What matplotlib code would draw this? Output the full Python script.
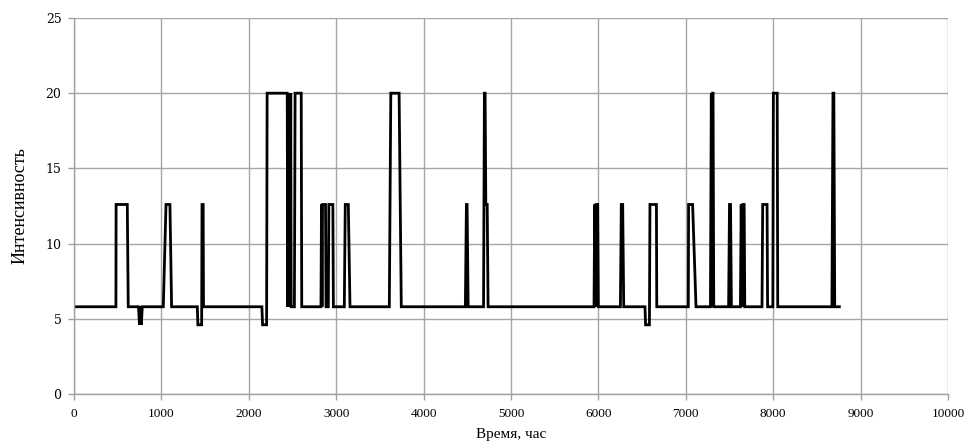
"""
Интенсивность во времени (ступенчатый график)
"""
import matplotlib
matplotlib.use("Agg")
import matplotlib.pyplot as plt

# уровни интенсивности
B = 5.8   # базовый
L = 4.6   # провал
M = 12.6  # средний
H = 20.0  # высокий

# точки излома ломаной: время, час
time_h = [0, 480, 482, 610, 621,
          738, 750, 754, 760, 766, 770, 782,
          1022, 1053, 1098, 1117,
          1411, 1418, 1456, 1461, 1465, 1478, 1482,
          2150, 2158, 2204, 2210, 2440, 2445, 2450, 2455, 2460, 2465, 2470, 2475, 2480, 2485, 2490,
          2522, 2530, 2600, 2606,
          2826, 2832, 2838, 2844, 2878, 2884, 2910, 2916, 2962, 2968,
          3093, 3104, 3139, 3158,
          3608, 3625, 3720, 3745,
          4478, 4490, 4498, 4510,
          4686, 4696, 4704, 4712, 4728, 4738,
          5950, 5958, 5966, 5974, 5992, 6000,
          6252, 6262, 6278, 6290,
          6533, 6540, 6578, 6584, 6590, 6664, 6668,
          7029, 7032, 7078, 7117,
          7282, 7292, 7300, 7306, 7312, 7320,
          7490, 7500, 7512, 7522,
          7625, 7634, 7644, 7652, 7668, 7675,
          7872, 7880, 7930, 7936,
          7996, 8002, 8046, 8052,
          8672, 8684, 8694, 8704,
          8757]
intensity = [B, B, M, M, B,
             B, L, B, L, B, L, B,
             B, M, M, B,
             B, L, L, L, M, M, B,
             B, L, L, H, H, B, H, B, H, B, H, B, H, B, B,
             B, H, H, B,
             B, M, B, M, M, B, B, M, M, B,
             B, M, M, B,
             B, H, H, B,
             B, M, M, B,
             B, H, H, M, M, B,
             B, M, B, M, M, B,
             B, M, M, B,
             B, L, L, L, M, M, B,
             B, M, M, B,
             B, H, B, H, H, B,
             B, M, M, B,
             B, M, B, M, M, B,
             B, M, M, B,
             B, H, H, B,
             B, H, H, B,
             B]

x_ticks = list(range(0, 10001, 1000))
y_ticks = [0, 5, 10, 15, 20, 25]

fig = plt.figure(figsize=(9.72, 4.43), dpi=100)
ax = fig.add_axes([0.0761, 0.1106, 0.8992, 0.8488])

ax.plot(time_h, intensity, color="black", linewidth=2.0, solid_joinstyle="miter")

ax.set_xlim(0, 10000)
ax.set_ylim(0, 25)
ax.set_xticks(x_ticks)
ax.set_yticks(y_ticks)
ax.grid(True, color="#a6a6a6", linewidth=1.0)
ax.set_axisbelow(True)

for s in ["top", "right"]:
    ax.spines[s].set_visible(False)
for s in ["left", "bottom"]:
    ax.spines[s].set_color("#a0a0a0")
    ax.spines[s].set_linewidth(1.0)

ax.tick_params(axis="both", direction="out", length=4, width=1.0, color="#a0a0a0")
ax.tick_params(axis="x", pad=6)
ax.tick_params(axis="y", pad=5)
for lbl in ax.get_xticklabels():
    lbl.set_fontfamily("Liberation Serif")
    lbl.set_fontsize(9.5)
for lbl in ax.get_yticklabels():
    lbl.set_fontfamily("DejaVu Serif")
    lbl.set_fontsize(9)

ax.set_xlabel("Время, час", fontfamily="Liberation Serif", fontsize=11, labelpad=6)
ax.set_ylabel("Интенсивность", fontfamily="Liberation Serif", fontsize=13, labelpad=12)

plt.savefig("out.png", dpi=100)
